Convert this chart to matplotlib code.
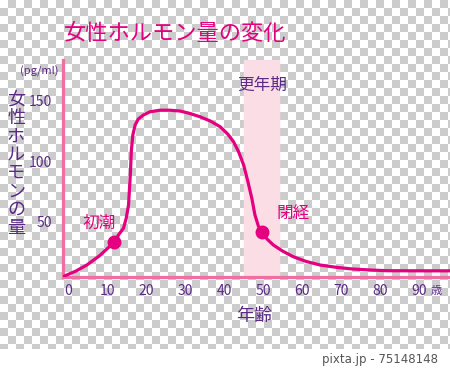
import numpy as np
import matplotlib
matplotlib.use('Agg')
import matplotlib.pyplot as plt

plt.rcParams['font.family'] = ['Noto Sans CJK JP', 'DejaVu Sans']

# 年齢 (x) とホルモン量 (y) -- 図から読み取った値
age = [-1.5, 2.0, 4.8, 8.0, 11.8, 12.9, 14.2, 14.9, 15.5, 15.7, 16.0, 16.2, 16.6,
       17.2, 18.0, 19.3, 21.0, 23.6, 26.0, 28.7, 31.0, 33.8, 36.5, 39.0, 41.0,
       42.4, 43.7, 45.0, 46.1, 47.1, 47.9, 48.8, 49.7, 51.0, 52.6, 55.0, 57.7,
       61.0, 64.6, 69.0, 73.0, 78.0, 81.8, 90.0, 98.0]
level = [4.1, 9.0, 14.0, 21.5, 32.8, 38.8, 44.4, 52.6, 63.6, 74.6, 91.2, 107.7,
         121.5, 129.8, 134.7, 138.0, 140.7, 142.0, 142.0, 141.3, 139.5, 136.6,
         133.0, 128.3, 122.0, 116.0, 107.7, 96.7, 82.9, 69.2, 55.4, 46.0, 41.6,
         35.5, 30.6, 25.5, 20.9, 17.0, 14.0, 12.0, 10.7, 9.8, 9.3, 9.2, 9.2]

events = ['初潮', '閉経']
event_age = [11.8, 49.7]
event_level = [32.8, 41.6]

x_ticks = [0, 10, 20, 30, 40, 50, 60, 70, 80, 90]
y_ticks = [50, 100, 150]
menopause_span = (45, 54)

MAGENTA = '#e4007f'
PINK = '#ef6fa2'
PURPLE = '#5b2a86'
BAND = '#fbdde5'

fig = plt.figure(figsize=(4.5, 3.69), dpi=100)
fig.patch.set_facecolor('white')

# 背景の市松模様
bg = fig.add_axes([0, 20 / 369, 1, 349 / 369])
rows, cols = int(np.ceil(349 / 8)), int(np.ceil(450 / 8))
checker = (np.add.outer(np.arange(rows), np.arange(cols)) % 2).astype(float)
bg.imshow(checker, cmap=matplotlib.colors.ListedColormap(['#ffffff', '#cccccc']),
          interpolation='nearest', aspect='auto',
          extent=[0, cols * 8, rows * 8, 0])
bg.set_xlim(0, 450)
bg.set_ylim(349, 0)
bg.axis('off')

ax = fig.add_axes([63 / 450, 1 - 277 / 369, 1 - 63 / 450, (277 - 60) / 369])
ax.patch.set_alpha(0)
ax.set_xlim(-1.3, 97.9)
ax.set_ylim(4.1, 183.5)

ax.axvspan(*menopause_span, color=BAND, zorder=1)
ax.plot(age, level, color=MAGENTA, lw=2.3, solid_joinstyle='round',
        solid_capstyle='round', zorder=3)
ax.plot(event_age, event_level, 'o', color=MAGENTA, ms=9, zorder=4)

for s in ['top', 'right']:
    ax.spines[s].set_visible(False)
for s in ['left', 'bottom']:
    ax.spines[s].set_color(PINK)
    ax.spines[s].set_linewidth(2.3)

ax.set_xticks(x_ticks)
ax.set_yticks(y_ticks)
ax.tick_params(length=0, colors=PURPLE, labelsize=10)
ax.tick_params(axis='x', pad=5)
ax.tick_params(axis='y', pad=8)

ax.text(event_age[0] - 3.8, event_level[0] + 16, events[0], color=MAGENTA,
        fontsize=12, ha='center', va='center')
ax.text(event_age[1] + 8, event_level[1] + 15, events[1], color=MAGENTA,
        fontsize=12, ha='center', va='center')

fig.text(64 / 450, 1 - 33 / 369, '女性ホルモン量の変化', color=MAGENTA,
         fontsize=16, ha='left', va='center')
fig.text(39 / 450, 1 - 71 / 369, '(pg/ml)', color=PURPLE, fontsize=8,
         ha='center', va='center')
fig.text(16 / 450, 1 - 164 / 369, '\n'.join('女性ホルモンの量'), color=PURPLE,
         fontsize=13, ha='center', va='center', linespacing=1.02)
fig.text(262 / 450, 1 - 85 / 369, '更年期', color=PURPLE, fontsize=12,
         ha='center', va='center')
fig.text(254 / 450, 1 - 316 / 369, '年齢', color=PURPLE, fontsize=13,
         ha='center', va='center')
fig.text(436 / 450, 1 - 291 / 369, '歳', color=PURPLE, fontsize=8,
         ha='center', va='center')
fig.text(438 / 450, 1 - 360 / 369, 'pixta.jp - 75148148', color='#555555',
         fontsize=8.5, ha='right', va='center', family=['DejaVu Sans'])

fig.savefig('out.png', dpi=100)
